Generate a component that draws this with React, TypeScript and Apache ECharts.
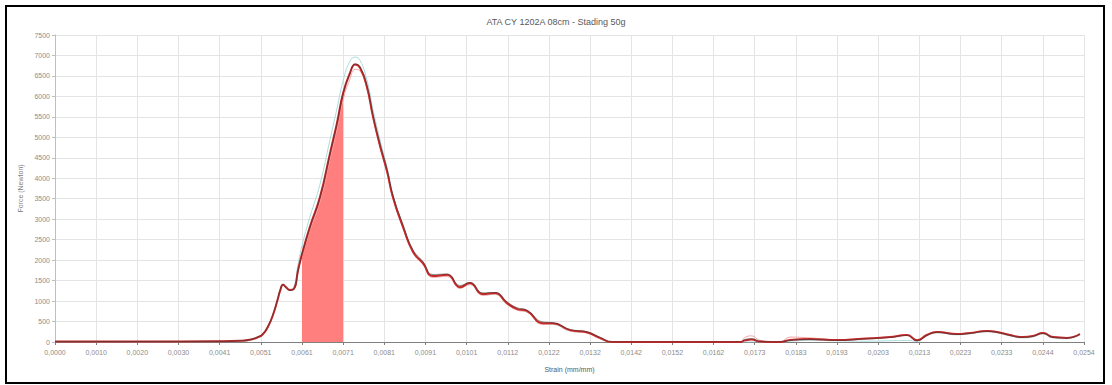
import React, { useEffect, useRef } from "react";
import * as echarts from "echarts";

const titleText = "ATA CY 1202A 08cm - Stading 50g";
const yAxisName = "Force (Newton)";
const xAxisName = "Strain (mm/mm)";

const xStep = 0.001016;
const xTickLabels = [
  "0,0000", "0,0010", "0,0020", "0,0030", "0,0041", "0,0051", "0,0061", "0,0071", "0,0081",
  "0,0091", "0,0101", "0,0112", "0,0122", "0,0132", "0,0142", "0,0152", "0,0162", "0,0173",
  "0,0183", "0,0193", "0,0203", "0,0213", "0,0223", "0,0233", "0,0244", "0,0254",
];

const strain = [
  0.0, 0.00202, 0.00407, 0.00457, 0.00481, 0.00499, 0.00513, 0.00526, 0.00538, 0.0055,
  0.00555, 0.00563, 0.0057, 0.0058, 0.0059, 0.006, 0.006096, 0.00629, 0.00654, 0.00679,
  0.00696, 0.007112, 0.00728, 0.00741, 0.00753, 0.0077, 0.00785, 0.00802, 0.0082, 0.00834,
  0.00859, 0.00884, 0.00908, 0.00933, 0.00968, 0.01, 0.01024, 0.01056, 0.01086, 0.01116,
  0.0114, 0.01165, 0.01204, 0.01229, 0.01271, 0.01313, 0.01345, 0.01377, 0.01691, 0.01703,
  0.0172, 0.0174, 0.0179, 0.01814, 0.01864, 0.0193, 0.01994, 0.02061, 0.02103, 0.02128,
  0.02152, 0.02177, 0.02226, 0.02259, 0.02301, 0.02325, 0.02357, 0.02389, 0.02414, 0.02439,
  0.02463, 0.02498, 0.0253,
];

const forceRed = [
  10, 12, 18, 30, 55, 110, 190, 380, 660, 1050,
  1230, 1400, 1340, 1270, 1300, 1760, 2150, 2810, 3540, 4620,
  5350, 6080, 6570, 6780, 6700, 6230, 5500, 4800, 4150, 3540,
  2810, 2200, 1930, 1610, 1640, 1340, 1440, 1170, 1200, 950,
  810, 760, 460, 460, 290, 240, 100, 0, 0, 40,
  60, 10, 0, 50, 75, 50, 80, 120, 170, 40,
  170, 245, 195, 220, 270, 245, 170, 120, 145, 220,
  120, 100, 195,
];

const forceBlack = [
  10, 12, 18, 30, 60, 120, 200, 400, 680, 1070,
  1250, 1410, 1330, 1260, 1290, 1740, 2130, 2790, 3520, 4600,
  5330, 6060, 6560, 6790, 6720, 6280, 5560, 4870, 4220, 3600,
  2870, 2250, 1970, 1650, 1660, 1380, 1450, 1200, 1210, 980,
  840, 780, 490, 470, 310, 250, 120, 0, 0, 60,
  80, 20, 0, 40, 60, 40, 70, 110, 160, 30,
  160, 235, 185, 210, 260, 240, 160, 115, 140, 210,
  115, 95, 185,
];

const forceCyan = [
  5, 5, 10, 20, 40, 90, 170, 360, 640, 1030,
  1210, 1390, 1330, 1280, 1350, 1900, 2350, 3050, 3850, 4950,
  5700, 6380, 6860, 6960, 6880, 6400, 5680, 4950, 4250, 3600,
  2850, 2230, 1950, 1630, 1620, 1320, 1400, 1150, 1160, 920,
  790, 730, 440, 430, 270, 220, 80, 0, 0, 0,
  0, 0, 0, 20, 40, 30, 20, 30, 40, 20,
  150, 225, 175, 200, 250, 225, 150, 100, 125, 200,
  100, 80, 175,
];

const forcePink = [
  8, 10, 15, 25, 50, 100, 180, 370, 650, 1040,
  1220, 1395, 1330, 1270, 1290, 1700, 2080, 2720, 3430, 4480,
  5200, 5920, 6420, 6660, 6620, 6180, 5480, 4780, 4120, 3500,
  2780, 2170, 1900, 1580, 1600, 1310, 1410, 1140, 1170, 920,
  780, 730, 430, 440, 270, 220, 80, 0, 0, 110,
  150, 40, 0, 120, 100, 60, 90, 130, 180, 60,
  180, 255, 205, 230, 280, 255, 180, 130, 155, 230,
  130, 110, 205,
];

const shadeFrom = 6 * xStep;
const shadeTo = 7 * xStep;

const pairs = (ys: number[]) => strain.map((x, i) => [x, ys[i]]);

export default function App() {
  const ref = useRef<HTMLDivElement>(null);
  useEffect(() => {
    if (!ref.current) return;
    const chart = echarts.init(ref.current, undefined, { renderer: "svg" });
    const font = "Liberation Sans";
    const shaded = strain
      .map((x, i) => [x, forceRed[i]])
      .filter((p) => p[0] >= shadeFrom - 1e-7 && p[0] <= shadeTo + 1e-7);
    const lineBase = {
      type: "line",
      showSymbol: false,
      symbol: "none",
      smooth: 0.5,
      z: 3,
    };
    chart.setOption({
      animation: false,
      backgroundColor: "#ffffff",
      textStyle: { fontFamily: font },
      title: {
        text: titleText,
        left: "center",
        top: 12,
        textStyle: { fontSize: 9, color: "#595959", fontWeight: "normal", fontFamily: font },
      },
      graphic: [
        {
          type: "rect",
          shape: { x: 6, y: 6, width: 1098, height: 377 },
          style: { fill: "none", stroke: "#000000", lineWidth: 2 },
          z: 100,
        },
      ],
      grid: { left: 55, right: 28, top: 35, bottom: 43 },
      xAxis: {
        type: "value",
        min: 0,
        max: 25 * xStep,
        interval: xStep,
        name: xAxisName,
        nameLocation: "middle",
        nameGap: 24,
        nameTextStyle: { fontSize: 7, color: "#595959", fontFamily: font },
        axisLine: { show: true, onZero: false, lineStyle: { color: "#7f7f7f", width: 1 } },
        axisTick: { show: true, length: 3, lineStyle: { color: "#7f7f7f" } },
        axisLabel: {
          fontSize: 7,
          color: "#8c8c8c",
          margin: 7,
          fontFamily: font,
          formatter: (v: number) => xTickLabels[Math.round(v / xStep)] ?? "",
        },
        splitLine: { show: true, lineStyle: { color: "#e4e4e4", width: 1 } },
      },
      yAxis: {
        type: "value",
        min: 0,
        max: 7500,
        interval: 500,
        name: yAxisName,
        nameLocation: "middle",
        nameGap: 27,
        nameTextStyle: { fontSize: 7, color: "#7f7f7f", fontFamily: font },
        axisLine: { show: true, lineStyle: { color: "#bfbfbf", width: 1 } },
        axisTick: { show: true, length: 3, lineStyle: { color: "#bfbfbf" } },
        axisLabel: {
          fontSize: 7,
          color: "#8c8c8c",
          margin: 5,
          fontFamily: font,
          formatter: (v: number) => String(v),
        },
        splitLine: { show: true, lineStyle: { color: "#e4e4e4", width: 1 } },
      },
      series: [
        {
          type: "line",
          data: shaded,
          showSymbol: false,
          symbol: "none",
          smooth: 0.5,
          lineStyle: { width: 0, opacity: 0 },
          areaStyle: { color: "#ff7f7f", opacity: 1 },
          z: 2,
        },
        { ...lineBase, data: pairs(forceCyan), lineStyle: { color: "#a9dcdc", width: 1 } },
        { ...lineBase, data: pairs(forcePink), lineStyle: { color: "#f4a6a6", width: 1 } },
        { ...lineBase, data: pairs(forceRed), lineStyle: { color: "#c62828", width: 2 } },
        { ...lineBase, data: pairs(forceBlack), lineStyle: { color: "#3a3a3a", width: 0.8, opacity: 0.7 } },
      ],
    });
    return () => chart.dispose();
  }, []);
  return (
    <div style={{ position: "absolute", left: 0, top: 0, width: 1112, height: 385 }}>
      <div ref={ref} style={{ width: 1112, height: 385 }} />
    </div>
  );
}
